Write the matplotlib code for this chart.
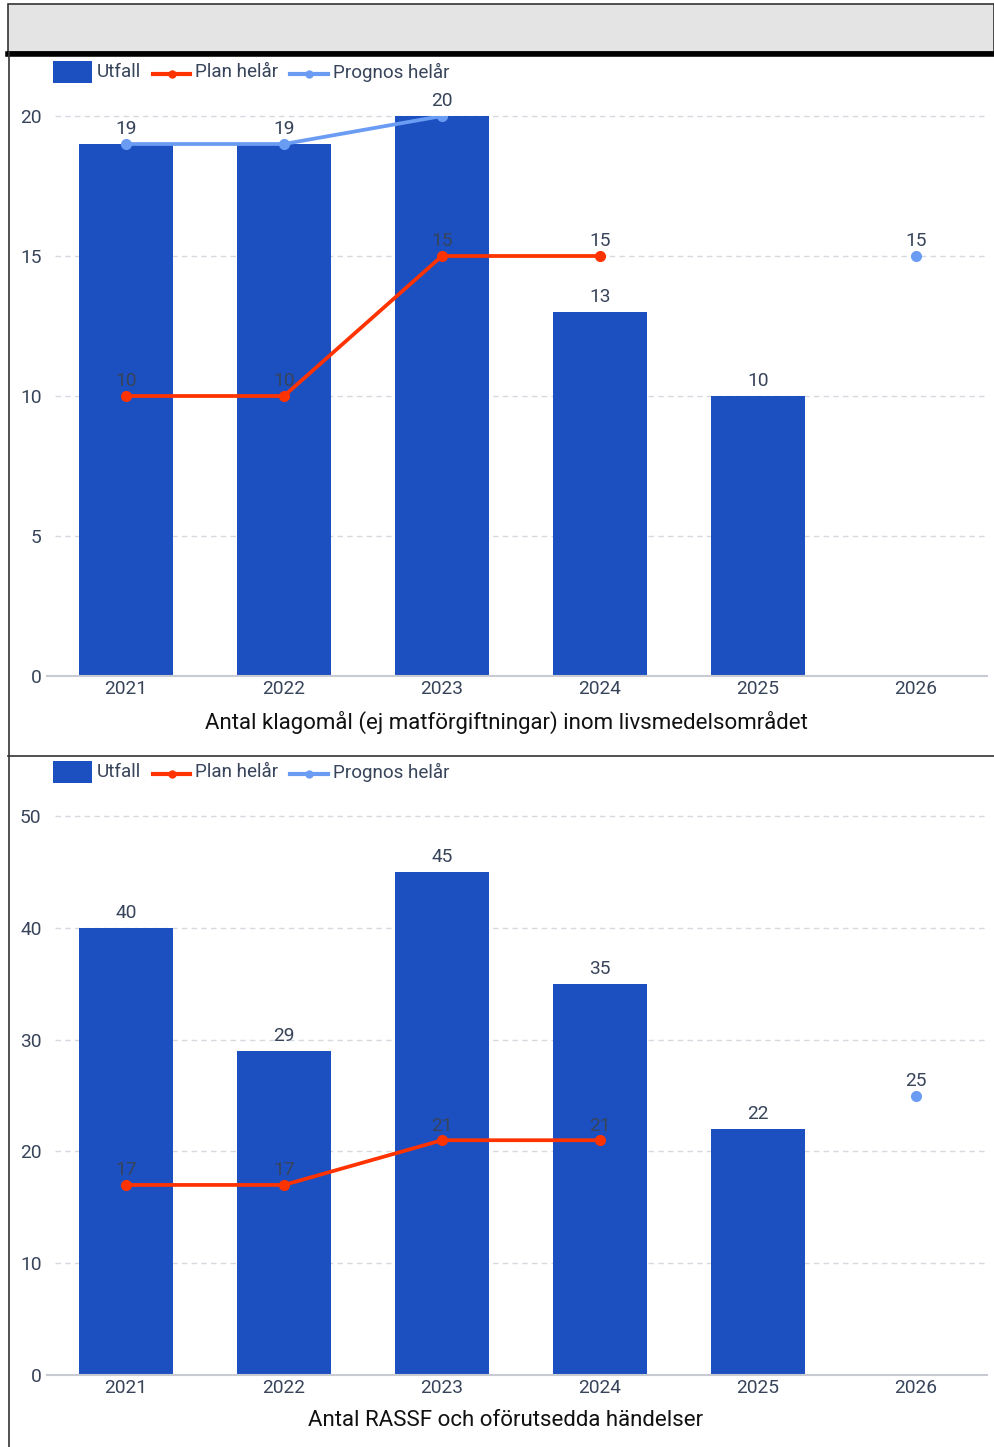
import matplotlib
matplotlib.use("Agg")
import matplotlib.pyplot as plt
import numpy as np
from matplotlib.patches import Rectangle
from matplotlib.lines import Line2D

plt.rcParams['font.family'] = ['Roboto', 'DejaVu Sans']

years = ["2021", "2022", "2023", "2024", "2025", "2026"]

title1 = "Antal klagomål (ej matförgiftningar) inom livsmedelsområdet"
utfall1 = [19, 19, 20, 13, 10, np.nan]
plan1 = [10, 10, 15, 15, np.nan, np.nan]
prognos1 = [19, 19, 20, np.nan, np.nan, 15]
yticks1 = [0, 5, 10, 15, 20]

title2 = "Antal RASSF och oförutsedda händelser"
utfall2 = [40, 29, 45, 35, 22, np.nan]
plan2 = [17, 17, 21, 21, np.nan, np.nan]
prognos2 = [np.nan, np.nan, np.nan, np.nan, np.nan, 25]
yticks2 = [0, 10, 20, 30, 40, 50]

legend_labels = ["Utfall", "Plan helår", "Prognos helår"]

BAR = "#1c4fbf"
RED = "#ff3300"
LBLUE = "#6b9cf4"
TXT = "#37445a"
GRID = "#d6dae0"

W, H = 994, 1447
fig = plt.figure(figsize=(W / 100, H / 100), dpi=100)


def fx(x):
    return x / W


def fy(y):
    return 1 - y / H


# Header and frame decorations
fig.patches.append(Rectangle((fx(8), fy(52)), fx(994 - 8), 48 / H, transform=fig.transFigure,
                             facecolor="#e4e4e4", edgecolor="#333333", linewidth=1.2))
fig.add_artist(Line2D([fx(8), 1], [fy(53.5), fy(53.5)], color="black", linewidth=4, transform=fig.transFigure))
fig.add_artist(Line2D([fx(8.5), fx(8.5)], [0, fy(52)], color="#333333", linewidth=1.2, transform=fig.transFigure))
fig.add_artist(Line2D([fx(8), 1], [fy(755.5), fy(755.5)], color="#333333", linewidth=1.2, transform=fig.transFigure))


def draw_legend(ycen):
    fs = 13.6
    fig.patches.append(Rectangle((fx(53), fy(ycen + 11)), fx(39), 22 / H, transform=fig.transFigure,
                                 facecolor=BAR, edgecolor="none"))
    fig.text(fx(97), fy(ycen), legend_labels[0], fontsize=fs, color=TXT, va="center", ha="left")
    fig.add_artist(Line2D([fx(153), fx(190)], [fy(ycen + 2), fy(ycen + 2)], color=RED, linewidth=3,
                          transform=fig.transFigure))
    fig.add_artist(Line2D([fx(172)], [fy(ycen + 2)], color=RED, marker="o", markersize=5,
                          transform=fig.transFigure))
    fig.text(fx(195), fy(ycen), legend_labels[1], fontsize=fs, color=TXT, va="center", ha="left")
    fig.add_artist(Line2D([fx(290), fx(328)], [fy(ycen + 2), fy(ycen + 2)], color=LBLUE, linewidth=3,
                          transform=fig.transFigure))
    fig.add_artist(Line2D([fx(309)], [fy(ycen + 2)], color=LBLUE, marker="o", markersize=5,
                          transform=fig.transFigure))
    fig.text(fx(333), fy(ycen), legend_labels[2], fontsize=fs, color=TXT, va="center", ha="left")


def draw_chart(rect, utfall, plan, prognos, yticks, title, title_y):
    ax = fig.add_axes(rect)
    x = np.arange(len(years))
    ax.bar(x, utfall, width=0.6, color=BAR, zorder=2)
    ax.plot(x, plan, color=RED, linewidth=2.7, marker="o", markersize=7, zorder=3)
    ax.plot(x, prognos, color=LBLUE, linewidth=2.7, marker="o", markersize=7, zorder=3)
    for xi, v in zip(x, utfall):
        if not np.isnan(v):
            ax.annotate(f"{v:g}", (xi, v), xytext=(0, 4), textcoords="offset points", ha="center",
                        va="bottom", fontsize=13.8, color=TXT, annotation_clip=False, zorder=4)
    for series in (plan, prognos):
        for xi, v, u in zip(x, series, utfall):
            if not np.isnan(v) and not (not np.isnan(u) and u == v):
                ax.annotate(f"{v:g}", (xi, v), xytext=(0, 4), textcoords="offset points", ha="center",
                            va="bottom", fontsize=13.8, color=TXT, annotation_clip=False, zorder=4)
    ax.set_xlim(-0.5, len(years) - 0.5)
    ax.set_ylim(0, yticks[-1])
    ax.set_yticks(yticks)
    ax.set_xticks(x)
    ax.set_xticklabels(years)
    ax.tick_params(axis="both", length=0, labelsize=13.8, labelcolor=TXT)
    ax.tick_params(axis="y", pad=4)
    ax.tick_params(axis="x", pad=3)
    ax.hlines(yticks[1:], -0.45, len(years) - 0.55, colors=GRID, linewidth=1, linestyles=(0, (4, 3)),
              zorder=1, clip_on=False)
    for s in ["top", "right", "left"]:
        ax.spines[s].set_visible(False)
    ax.spines["bottom"].set_bounds(-0.5, len(years) - 0.55)
    ax.spines["bottom"].set_color("#c8ccd2")
    ax.spines["bottom"].set_linewidth(1.5)
    ax.spines["bottom"].set_zorder(5)
    ax.set_facecolor("none")
    fig.text(fx(506), fy(title_y), title, fontsize=16, color="#111111", ha="center", va="center")
    return ax


draw_legend(72)
draw_chart([fx(47), fy(676), fx(995 - 47), (676 - 116) / H], utfall1, plan1, prognos1, yticks1, title1, 722)
draw_legend(772)
draw_chart([fx(47), fy(1375), fx(995 - 47), (1375 - 816) / H], utfall2, plan2, prognos2, yticks2, title2, 1421)

fig.savefig("out.png", dpi=100)
